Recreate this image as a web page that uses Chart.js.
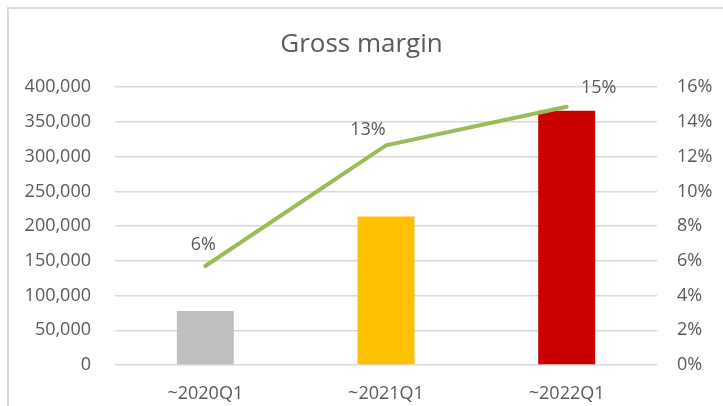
<!DOCTYPE html>
<html>
<head>
<meta charset="utf-8">
<script src="https://cdn.jsdelivr.net/npm/chart.js@4.4.0/dist/chart.umd.min.js"></script>
<style>
    body { margin: 0; background: #ffffff; }
    #wrap { position: relative; width: 723px; height: 406px; overflow: hidden; }
    #frame { position: absolute; left: 7px; top: 7px; width: 800px; height: 500px;
             border-top: 2px solid #d9d9d9; border-left: 2px solid #d9d9d9; }
    #grossChart { position: absolute; left: 0; top: 0; }
</style>
</head>
<body>
<div id="wrap">
    <div id="frame"></div>
    <canvas id="grossChart" width="723" height="406"></canvas>
</div>
<script>
// data
const periods = ['~2020Q1', '~2021Q1', '~2022Q1'];
const gross_profit_list = [77700, 214000, 366000];
const gross_margin_list = [0.057, 0.1265, 0.1487];
const bar_colors = ['#bfbfbf', '#ffc000', '#cc0000'];

// label nudges for the margin labels (dx, dy from the point)
const labelOffsets = [[-2, -21], [-18, -15], [32, -19]];

const fontFamily = '"Open Sans", "Noto Sans", sans-serif';
const textColor = '#595959';

const marginLabels = {
    id: 'marginLabels',
    afterDatasetsDraw(chart) {
        const meta = chart.getDatasetMeta(1);
        const ctx = chart.ctx;
        ctx.save();
        ctx.font = '18px ' + fontFamily;
        ctx.fillStyle = textColor;
        ctx.textAlign = 'center';
        ctx.textBaseline = 'middle';
        meta.data.forEach((pt, i) => {
            const txt = Math.round(gross_margin_list[i] * 100) + '%';
            ctx.fillText(txt, pt.x + labelOffsets[i][0], pt.y + labelOffsets[i][1]);
        });
        ctx.restore();
    }
};

const ctxGross = document.getElementById('grossChart').getContext('2d');
const myGrossChart = new Chart(ctxGross, {
    type: 'bar',
    data: {
        labels: periods,
        datasets: [{
            label: 'Gross profit',
            data: gross_profit_list,
            backgroundColor: bar_colors,
            borderWidth: 0,
            categoryPercentage: 1,
            barPercentage: 0.315,
            yAxisID: 'y',
            order: 2
        },
        {
            type: 'line',
            label: 'Gross margin',
            data: gross_margin_list,
            borderColor: '#9bbb59',
            borderWidth: 4,
            borderCapStyle: 'round',
            pointRadius: 0,
            tension: 0,
            yAxisID: 'y1',
            order: 1
        }]
    },
    plugins: [marginLabels],
    options: {
        responsive: false,
        animation: false,
        layout: { padding: 0 },
        plugins: {
            legend: { display: false },
            tooltip: { enabled: false },
            title: {
                display: true,
                text: 'Gross margin',
                color: textColor,
                font: { family: fontFamily, size: 26, weight: 'normal' },
                padding: { top: 29, bottom: 27 }
            }
        },
        scales: {
            x: {
                grid: { display: false },
                border: { display: false },
                ticks: { color: textColor, font: { family: fontFamily, size: 18 }, padding: 10 },
                afterFit(scale) { scale.height = 41; }
            },
            y: {
                position: 'left',
                min: 0,
                max: 400000,
                grid: { color: '#d9d9d9', lineWidth: 1.5, drawTicks: false },
                border: { display: false },
                ticks: {
                    stepSize: 50000,
                    color: textColor,
                    font: { family: fontFamily, size: 18 },
                    padding: 24,
                    callback: v => v.toLocaleString('en-US')
                },
                afterFit(scale) { scale.width = 115; }
            },
            y1: {
                position: 'right',
                min: 0,
                max: 0.16,
                grid: { display: false, drawTicks: false },
                border: { display: false },
                ticks: {
                    stepSize: 0.02,
                    color: textColor,
                    font: { family: fontFamily, size: 18 },
                    padding: 20,
                    callback: v => Math.round(v * 100) + '%'
                },
                afterFit(scale) { scale.width = 66; }
            }
        }
    }
});
</script>
</body>
</html>
